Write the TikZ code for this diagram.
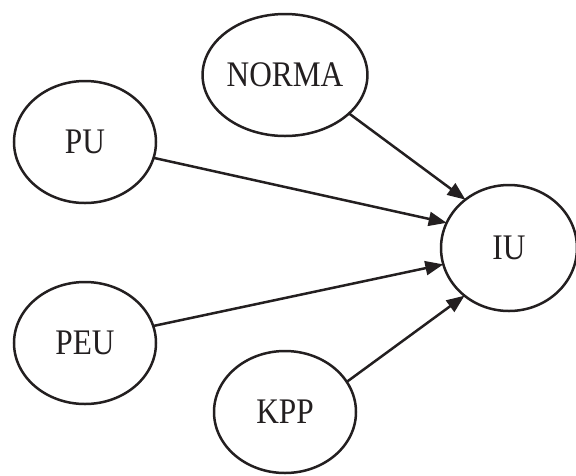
\documentclass[tikz,border=0pt]{standalone}
\usepackage{fontspec}
\setmainfont[FakeStretch=0.87]{Liberation Serif}
\usetikzlibrary{shapes.geometric,arrows.meta}
\definecolor{ink}{HTML}{231F20}
\begin{document}
\begin{tikzpicture}[x=1pt,y=-1pt,
  construct/.style={ellipse,draw=ink,line width=2.5pt,inner sep=0pt,outer sep=0pt,
    minimum width=142pt,minimum height=122pt,
    font=\fontsize{36}{42}\selectfont,text=ink},
  link/.style={draw=ink,line width=2.5pt,-{Triangle[length=18pt,width=14pt]}}]
\useasboundingbox (0,0) rectangle (576,475);
\node[construct] (norma) at (285,75)  {NORMA};
\node[construct] (pu)    at (85,142)  {PU};
\node[construct,minimum width=136pt,minimum height=126pt] (iu) at (509,248) {IU};
\node[construct] (peu)   at (85,343)  {PEU};
\node[construct] (kpp)   at (285,412) {KPP};
\draw[link] (norma.-31) -- (iu.132);
\draw[link] (pu.-13) -- (iu.158);
\draw[link] (peu.14) -- (iu.194);
\draw[link] (kpp.26) -- (iu.227);
\end{tikzpicture}
\end{document}
